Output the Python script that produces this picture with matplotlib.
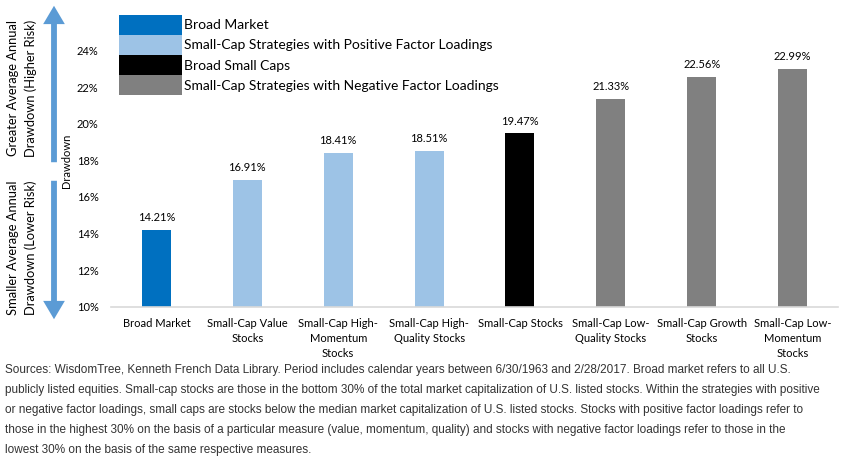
import matplotlib
matplotlib.use("Agg")
from matplotlib import pyplot as plt
from matplotlib.patches import Patch, FancyArrowPatch

# data
categories = [
    "Broad Market",
    "Small-Cap Value\nStocks",
    "Small-Cap High-\nMomentum\nStocks",
    "Small-Cap High-\nQuality Stocks",
    "Small-Cap Stocks",
    "Small-Cap Low-\nQuality Stocks",
    "Small-Cap Growth\nStocks",
    "Small-Cap Low-\nMomentum\nStocks",
]
drawdown = [14.21, 16.91, 18.41, 18.51, 19.47, 21.33, 22.56, 22.99]
groups = [0, 1, 1, 1, 2, 3, 3, 3]
group_names = [
    "Broad Market",
    "Small-Cap Strategies with Positive Factor Loadings",
    "Broad Small Caps",
    "Small-Cap Strategies with Negative Factor Loadings",
]
group_colors = ["#0070C0", "#9DC3E6", "#000000", "#808080"]
y_ticks = [10, 12, 14, 16, 18, 20, 22, 24]

footnote = [
    "Sources: WisdomTree, Kenneth French Data Library. Period includes calendar years between 6/30/1963 and 2/28/2017. Broad market refers to all U.S.",
    "publicly listed equities. Small-cap stocks are those in the bottom 30% of the total market capitalization of U.S. listed stocks. Within the strategies with positive",
    "or negative factor loadings, small caps are stocks below the median market capitalization of U.S. listed stocks. Stocks with positive factor loadings refer to",
    "those in the highest 30% on the basis of a particular measure (value, momentum, quality) and stocks with negative factor loadings refer to those in the",
    "lowest 30% on the basis of the same respective measures.",
]

plt.rcParams['font.family'] = ['Lato', 'DejaVu Sans']

W, H = 846, 461
fig = plt.figure(figsize=(W / 100, H / 100), dpi=100)
ax = fig.add_axes([111 / W, 1 - 306.7 / H, 727 / W, (306.7 - 14) / H])

x = range(len(categories))
colors = [group_colors[g] for g in groups]
bars = ax.bar(x, drawdown, width=0.32, color=colors, bottom=0)
ax.bar_label(bars, labels=[f"{v:.2f}%" for v in drawdown], padding=5, fontsize=8)

ax.set_ylim(10, 26)
ax.set_xlim(-0.5, len(categories) - 0.5)
ax.set_yticks(y_ticks)
ax.set_yticklabels([f"{t}%" for t in y_ticks], fontsize=8)
ax.set_xticks(list(x))
ax.set_xticklabels(categories, fontsize=8, linespacing=1.45)
ax.tick_params(axis='both', length=0)
ax.tick_params(axis='y', pad=9)
ax.tick_params(axis='x', pad=8)

for side in ['top', 'right', 'left']:
    ax.spines[side].set_visible(False)
ax.spines['bottom'].set_color('#D9D9D9')
ax.spines['bottom'].set_linewidth(1.2)

ax.set_ylabel("Drawdown", fontsize=8)
ax.yaxis.set_label_coords(-0.054, 0.5)

# legend with stacked colour blocks
handles = [Patch(facecolor=c, edgecolor='none') for c in group_colors]
fig.legend(handles, group_names, loc='upper left',
           bbox_to_anchor=(119 / W, 1 - 15 / H), frameon=False,
           fontsize=10, handlelength=4.5, handleheight=1.84,
           labelspacing=0, handletextpad=0.2, borderpad=0, borderaxespad=0)

# risk arrows on the left
arrow_color = "#5B9BD5"
for y0, y1 in [(165, 3), (178, 322)]:
    arr = FancyArrowPatch((54 / W, 1 - y0 / H), (54 / W, 1 - y1 / H),
                          transform=fig.transFigure,
                          arrowstyle='simple,head_length=1.1,head_width=1.3,tail_width=0.35',
                          mutation_scale=12, color=arrow_color, lw=0)
    fig.add_artist(arr)

fig.text(22 / W, 1 - 88 / H, "Greater Average Annual\nDrawdown (Higher Risk)",
         rotation=90, ha='center', va='center', fontsize=9.3, linespacing=1.45)
fig.text(22 / W, 1 - 248 / H, "Smaller Average Annual\nDrawdown (Lower Risk)",
         rotation=90, ha='center', va='center', fontsize=9.3, linespacing=1.45)

for i, line in enumerate(footnote):
    fig.text(5 / W, 1 - (370 + i * 20) / H, line, ha='left', va='center',
             fontsize=8.5, color='#333333',
             family=['Liberation Sans Narrow', 'Liberation Sans'])

fig.savefig("out.png", dpi=100)
